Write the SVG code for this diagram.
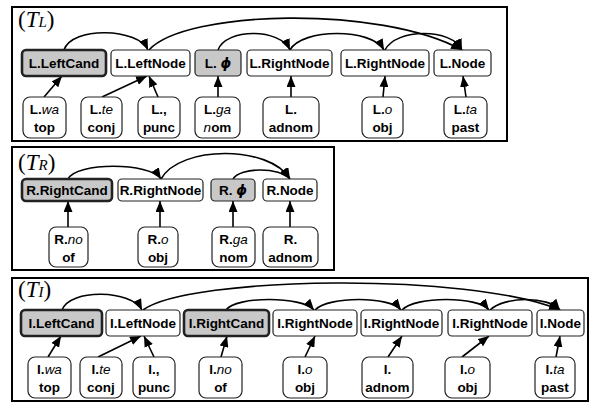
<svg xmlns="http://www.w3.org/2000/svg" width="595" height="403" viewBox="0 0 595 403">
<style>
.fr{fill:#fff;stroke:#000;stroke-width:2}
.n{fill:#fff;stroke:#222;stroke-width:1.2}
.g{fill:#c8c8c8;stroke:#222;stroke-width:1.2}
.c{fill:#c8c8c8;stroke:#222;stroke-width:2.6}
.t{font-family:"Liberation Sans",Arial,sans-serif;font-weight:bold;font-size:13.5px;text-anchor:middle;fill:#000}
.i{font-style:italic;font-weight:normal}
.bi{font-style:italic;font-weight:bold;font-family:"DejaVu Sans","Liberation Sans",sans-serif}
.ttl{font-family:"Liberation Serif","Times New Roman",serif;font-size:23px;fill:#000}
.it{font-style:italic}
.e{fill:none;stroke:#000;stroke-width:1.6;marker-end:url(#a)}
</style>
<defs>
<marker id="a" markerUnits="userSpaceOnUse" markerWidth="11" markerHeight="9" refX="11" refY="4.5" orient="auto">
<path d="M0,0 L11,4.5 L0,9 z" fill="#000"/>
</marker>
</defs>
<g id="panels">
<rect class="fr" x="12" y="7" width="495" height="134"/>
<rect class="fr" x="12" y="147" width="322" height="123"/>
<rect class="fr" x="12" y="278" width="576" height="123"/>
<text class="ttl" x="18" y="27">(<tspan class="it">T</tspan><tspan class="it" font-size="15">L</tspan>)</text>
<text class="ttl" x="18" y="170">(<tspan class="it">T</tspan><tspan class="it" font-size="15">R</tspan>)</text>
<text class="ttl" x="18" y="297">(<tspan class="it">T</tspan><tspan class="it" font-size="15">I</tspan>)</text>
</g>
<g id="connectors">
<path class="e" d="M44,97 L62,76"/>
<path class="e" d="M102,97 L147,76"/>
<path class="e" d="M158,97 L149,76"/>
<path class="e" d="M218,97 L218,76"/>
<path class="e" d="M291,97 L291,76"/>
<path class="e" d="M383,97 L385,76"/>
<path class="e" d="M466,97 L463,76"/>
<path class="e" d="M64,50 C72,26 138,28 148,50"/>
<path class="e" d="M218,50 C226,28 280,28 290,50"/>
<path class="e" d="M290,50 C302,28 372,28 384,50"/>
<path class="e" d="M385,50 C396,28 452,28 462,50"/>
<path class="e" d="M149,50 C185,10 380,5 462,50"/>
<path class="e" d="M68,227 L68,201"/>
<path class="e" d="M160,227 L160,201"/>
<path class="e" d="M233,227 L233,201"/>
<path class="e" d="M290,227 L290,201"/>
<path class="e" d="M68,179 C76,162 150,162 161,179"/>
<path class="e" d="M161,179 C180,145 270,145 290,179"/>
<path class="e" d="M233,179 C240,167 280,167 290,179"/>
<path class="e" d="M48,357 L61,336"/>
<path class="e" d="M98,357 L141,336"/>
<path class="e" d="M154,357 L144,336"/>
<path class="e" d="M221,357 L227,336"/>
<path class="e" d="M305,357 L315,336"/>
<path class="e" d="M388,357 L402,336"/>
<path class="e" d="M462,357 L489,336"/>
<path class="e" d="M556,357 L560,336"/>
<path class="e" d="M62,310 C70,288 132,290 142,310"/>
<path class="e" d="M226,310 C236,296 302,296 314,310"/>
<path class="e" d="M315,310 C328,296 390,296 401,310"/>
<path class="e" d="M402,310 C415,296 478,296 489,310"/>
<path class="e" d="M490,310 C505,296 548,296 560,310"/>
<path class="e" d="M143,310 C190,276 470,272 560,310"/>
</g>
<g id="L_LeftCand"><rect class="c" x="22" y="50" width="84" height="26" rx="4"/><text class="t" x="64" y="68">L.LeftCand</text></g>
<g id="L_LeftNode"><rect class="n" x="111" y="50" width="79" height="26" rx="4"/><text class="t" x="150.5" y="68">L.LeftNode</text></g>
<g id="L_phi"><rect class="g" x="195" y="50" width="46" height="26" rx="4"/><text class="t" x="218" y="68">L. <tspan class="bi">ϕ</tspan></text></g>
<g id="L_RightNode1"><rect class="n" x="247" y="50" width="85" height="26" rx="4"/><text class="t" x="289.5" y="68">L.RightNode</text></g>
<g id="L_RightNode2"><rect class="n" x="341" y="50" width="88" height="26" rx="4"/><text class="t" x="385" y="68">L.RightNode</text></g>
<g id="L_Node"><rect class="n" x="434" y="50" width="57" height="26" rx="4"/><text class="t" x="462.5" y="68">L.Node</text></g>
<g id="L_wa"><rect class="n" x="23" y="97" width="43" height="41" rx="7"/><text class="t" x="44.5" y="114">L.<tspan class="i">wa</tspan></text><text class="t" x="44.5" y="132">top</text></g>
<g id="L_te"><rect class="n" x="81" y="97" width="41" height="41" rx="7"/><text class="t" x="101.5" y="114">L.<tspan class="i">te</tspan></text><text class="t" x="101.5" y="132">conj</text></g>
<g id="L_punc"><rect class="n" x="138" y="97" width="42" height="41" rx="7"/><text class="t" x="159" y="114">L.,</text><text class="t" x="159" y="132">punc</text></g>
<g id="L_ga"><rect class="n" x="195" y="97" width="45" height="41" rx="7"/><text class="t" x="217.5" y="114">L.<tspan class="i">ga</tspan></text><text class="t" x="217.5" y="132"><tspan class="i">n</tspan>om</text></g>
<g id="L_adnom"><rect class="n" x="263" y="97" width="56" height="41" rx="7"/><text class="t" x="291" y="114">L.</text><text class="t" x="291" y="132">adnom</text></g>
<g id="L_o"><rect class="n" x="362" y="97" width="41" height="41" rx="7"/><text class="t" x="382.5" y="114">L.<tspan class="i">o</tspan></text><text class="t" x="382.5" y="132">obj</text></g>
<g id="L_ta"><rect class="n" x="444" y="97" width="43" height="41" rx="7"/><text class="t" x="465.5" y="114">L.<tspan class="i">ta</tspan></text><text class="t" x="465.5" y="132">past</text></g>
<g id="R_RightCand"><rect class="c" x="22" y="179" width="90" height="22" rx="4"/><text class="t" x="67" y="195">R.RightCand</text></g>
<g id="R_RightNode"><rect class="n" x="118" y="179" width="85" height="22" rx="4"/><text class="t" x="160.5" y="195">R.RightNode</text></g>
<g id="R_phi"><rect class="g" x="211" y="179" width="44" height="22" rx="4"/><text class="t" x="233" y="195">R. <tspan class="bi">ϕ</tspan></text></g>
<g id="R_Node"><rect class="n" x="263" y="179" width="54" height="22" rx="4"/><text class="t" x="290" y="195">R.Node</text></g>
<g id="R_no"><rect class="n" x="49" y="227" width="39" height="40" rx="7"/><text class="t" x="68.5" y="244">R.<tspan class="i">no</tspan></text><text class="t" x="68.5" y="262">of</text></g>
<g id="R_o"><rect class="n" x="138" y="227" width="40" height="40" rx="7"/><text class="t" x="158" y="244">R.<tspan class="i">o</tspan></text><text class="t" x="158" y="262">obj</text></g>
<g id="R_ga"><rect class="n" x="212" y="227" width="43" height="40" rx="7"/><text class="t" x="233.5" y="244">R.<tspan class="i">ga</tspan></text><text class="t" x="233.5" y="262">nom</text></g>
<g id="R_adnom"><rect class="n" x="263" y="227" width="55" height="40" rx="7"/><text class="t" x="290.5" y="244">R.</text><text class="t" x="290.5" y="262">adnom</text></g>
<g id="I_LeftCand"><rect class="c" x="21" y="310" width="81" height="26" rx="4"/><text class="t" x="61.5" y="328">I.LeftCand</text></g>
<g id="I_LeftNode"><rect class="n" x="106" y="310" width="74" height="26" rx="4"/><text class="t" x="143" y="328">I.LeftNode</text></g>
<g id="I_RightCand"><rect class="c" x="184" y="310" width="85" height="26" rx="4"/><text class="t" x="226.5" y="328">I.RightCand</text></g>
<g id="I_RightNode1"><rect class="n" x="273" y="310" width="84" height="26" rx="4"/><text class="t" x="315" y="328">I.RightNode</text></g>
<g id="I_RightNode2"><rect class="n" x="361" y="310" width="81" height="26" rx="4"/><text class="t" x="401.5" y="328">I.RightNode</text></g>
<g id="I_RightNode3"><rect class="n" x="448" y="310" width="84" height="26" rx="4"/><text class="t" x="490" y="328">I.RightNode</text></g>
<g id="I_Node"><rect class="n" x="537" y="310" width="47" height="26" rx="4"/><text class="t" x="560.5" y="328">I.Node</text></g>
<g id="I_wa"><rect class="n" x="28" y="357" width="43" height="41" rx="7"/><text class="t" x="49.5" y="374">I.<tspan class="i">wa</tspan></text><text class="t" x="49.5" y="392">top</text></g>
<g id="I_te"><rect class="n" x="80" y="357" width="42" height="41" rx="7"/><text class="t" x="101" y="374">I.<tspan class="i">te</tspan></text><text class="t" x="101" y="392">conj</text></g>
<g id="I_punc"><rect class="n" x="133" y="357" width="42" height="41" rx="7"/><text class="t" x="154" y="374">I.,</text><text class="t" x="154" y="392">punc</text></g>
<g id="I_no"><rect class="n" x="199" y="357" width="43" height="41" rx="7"/><text class="t" x="220.5" y="374">I.<tspan class="i">no</tspan></text><text class="t" x="220.5" y="392">of</text></g>
<g id="I_o1"><rect class="n" x="283" y="357" width="44" height="41" rx="7"/><text class="t" x="305" y="374">I.<tspan class="i">o</tspan></text><text class="t" x="305" y="392">obj</text></g>
<g id="I_adnom"><rect class="n" x="362" y="357" width="51" height="41" rx="7"/><text class="t" x="387.5" y="374">I.</text><text class="t" x="387.5" y="392">adnom</text></g>
<g id="I_o2"><rect class="n" x="445" y="357" width="45" height="41" rx="7"/><text class="t" x="467.5" y="374">I.<tspan class="i">o</tspan></text><text class="t" x="467.5" y="392">obj</text></g>
<g id="I_ta"><rect class="n" x="535" y="357" width="40" height="41" rx="7"/><text class="t" x="555" y="374">I.<tspan class="i">ta</tspan></text><text class="t" x="555" y="392">past</text></g>
</svg>
